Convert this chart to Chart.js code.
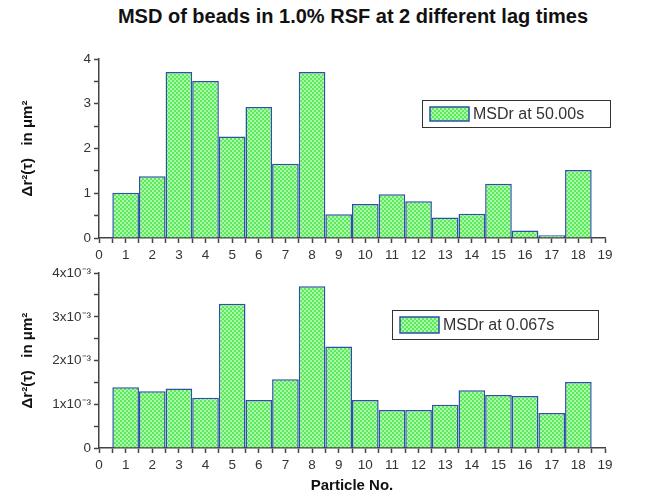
<!DOCTYPE html>
<html>
<head>
<meta charset="utf-8">
<script src="https://cdn.jsdelivr.net/npm/chart.js@4"></script>
<style>
  body { margin: 0; background: #fff; width: 655px; height: 499px; overflow: hidden; position: relative; font-family: "Liberation Sans", Arial, sans-serif; }
  #title { position: absolute; left: 0; width: 706px; top: 5px; text-align: center; font-weight: bold; font-size: 20px; color: #111; }
  .wrap { position: absolute; left: 0; width: 655px; }
  #topWrap { top: 30px; height: 240px; }
  #botWrap { top: 262px; height: 237px; }
</style>
</head>
<body>
<div id="title">MSD of beads in 1.0% RSF at 2 different lag times</div>
<div class="wrap" id="topWrap"><canvas id="top"></canvas></div>
<div class="wrap" id="botWrap"><canvas id="bot"></canvas></div>
<script>
// particle numbers (x positions)
const particles = [1, 2, 3, 4, 5, 6, 7, 8, 9, 10, 11, 12, 13, 14, 15, 16, 17, 18];
// MSD at lag 50.00 s, in um^2
const msd50 = [1.01, 1.38, 3.71, 3.51, 2.27, 2.93, 1.66, 3.71, 0.53, 0.76, 0.98, 0.82, 0.46, 0.54, 1.21, 0.17, 0.06, 1.52];
// MSD at lag 0.067 s, in um^2
const msd0067 = [0.00139, 0.00130, 0.00136, 0.00115, 0.00330, 0.00110, 0.00157, 0.00370, 0.00232, 0.00110, 0.00087, 0.00087, 0.00099, 0.00132, 0.00121, 0.00119, 0.00080, 0.00151];
const labelTop = 'MSDr at 50.00s';
const labelBot = 'MSDr at 0.067s';
const yTitle = 'Δr²(τ)   in μm²';

function checker() {
  const c = document.createElement('canvas');
  c.width = 4; c.height = 4;
  const g = c.getContext('2d');
  g.fillStyle = '#5ee85e';
  g.fillRect(0, 0, 4, 4);
  g.fillStyle = '#a8fca8';
  g.fillRect(0, 0, 2, 2);
  g.fillRect(2, 2, 2, 2);
  return g.createPattern(c, 'repeat');
}
const fill = checker();
const edge = '#2f4fa8';
const axisCol = '#444';
const tickFont = { family: '"Liberation Sans", Arial, sans-serif', size: 13.5 };
const titleFont = { family: '"Liberation Sans", Arial, sans-serif', size: 15, weight: 'bold' };

const boxLegend = {
  id: 'boxLegend',
  afterDraw(chart, args, o) {
    const ctx = chart.ctx;
    ctx.save();
    ctx.fillStyle = '#fff';
    ctx.fillRect(o.x, o.y, o.w, o.h);
    ctx.strokeStyle = '#333';
    ctx.lineWidth = 1;
    ctx.strokeRect(o.x + 0.5, o.y + 0.5, o.w, o.h);
    const sx = o.x + 8, sy = o.y + 7, sw = 39, sh = o.h - 13;
    ctx.fillStyle = fill;
    ctx.fillRect(sx, sy, sw, sh);
    ctx.strokeStyle = edge;
    ctx.lineWidth = 1.5;
    ctx.strokeRect(sx, sy, sw, sh);
    ctx.fillStyle = '#333';
    ctx.font = '16px "Liberation Sans", Arial, sans-serif';
    ctx.textBaseline = 'middle';
    ctx.fillText(chart.data.datasets[0].label, sx + sw + 4, o.y + o.h / 2 + 1);
    ctx.restore();
  }
};

function makeChart(id, values, label, yMax, yStep, yLabel, padTop, xHeight, showXTitle, legend) {
  return new Chart(document.getElementById(id), {
    type: 'bar',
    data: {
      datasets: [{
        label: label,
        data: particles.map((p, i) => ({ x: p, y: values[i] })),
        backgroundColor: fill,
        borderColor: edge,
        borderWidth: 1.5,
        // ruler uses the 0.5 tick spacing, so 2x gives bars one particle wide
        barPercentage: 2,
        categoryPercentage: 1
      }]
    },
    options: {
      responsive: true,
      maintainAspectRatio: false,
      animation: false,
      layout: { padding: { top: padTop, right: 50, left: 0, bottom: 0 } },
      plugins: { legend: { display: false }, tooltip: { enabled: false }, boxLegend: legend },
      scales: {
        x: {
          type: 'linear', min: 0, max: 19, offset: false,
          grid: { offset: false, drawOnChartArea: false, tickLength: 5, tickColor: axisCol, tickWidth: 1.5 },
          border: { color: axisCol, width: 1.5 },
          ticks: {
            stepSize: 0.5, autoSkip: false, maxRotation: 0, color: '#333', font: tickFont, padding: 4,
            callback: v => Number.isInteger(v) ? String(v) : ''
          },
          title: { display: showXTitle, text: 'Particle No.', color: '#111', font: titleFont, padding: { top: 3 } },
          afterFit: s => { s.height = xHeight; }
        },
        y: {
          min: 0, max: yMax,
          grid: { drawOnChartArea: false, tickLength: 5, tickColor: axisCol, tickWidth: 1.5 },
          border: { color: axisCol, width: 1.5 },
          ticks: { stepSize: yStep, autoSkip: false, color: '#333', font: tickFont, padding: 3, callback: yLabel },
          title: { display: true, text: yTitle, color: '#111', font: titleFont, padding: { top: 19 } },
          afterFit: s => { s.width = 99; }
        }
      }
    },
    plugins: [boxLegend]
  });
}

makeChart('top', msd50, labelTop, 4, 0.5,
  v => Number.isInteger(v) ? String(v) : '',
  29, 32, false, { x: 422, y: 70, w: 188, h: 27 });

makeChart('bot', msd0067, labelBot, 0.004, 0.0005,
  v => {
    const n = v * 1000;
    if (Math.abs(n - Math.round(n)) > 1e-6) return '';
    return Math.round(n) === 0 ? '0' : Math.round(n) + 'x10⁻³';
  },
  9, 51, true, { x: 392, y: 48, w: 206, h: 29 });
</script>
</body>
</html>
